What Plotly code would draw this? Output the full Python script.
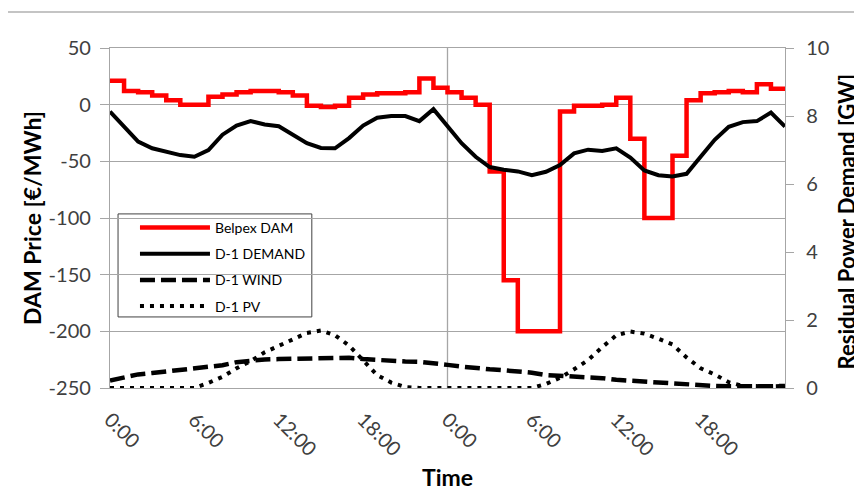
import plotly.graph_objects as go

# ---- data (hourly, two days) ----
hours = list(range(49))  # 0..48 h
tick_hours = [0, 6, 12, 18, 24, 30, 36, 42]
tick_labels = ["0:00", "6:00", "12:00", "18:00", "0:00", "6:00", "12:00", "18:00"]
price_ticks = [50, 0, -50, -100, -150, -200, -250]
price_tick_labels = ["50", "0", "-50", "-100", "-150", "-200", "-250"]
gw_ticks = [0, 2, 4, 6, 8, 10]

# Belpex DAM price, EUR/MWh, one value per hour (48 hours)
price_day1 = [21, 12, 11, 8, 4, 0, 0, 7, 9, 11, 12, 12, 11, 8, -1, -2, -1, 6, 9, 10, 10, 11, 23, 15]
price_day2 = [11, 6, 0, -59, -155, -200, -200, -200, -6, -1, -1, 0, 6, -30, -100, -100, -45, 4, 10, 11, 12, 11, 18, 14]

# D-1 residual demand, GW
demand_day1 = [8.13, 7.7, 7.25, 7.05, 6.95, 6.85, 6.8, 7.0, 7.45, 7.72, 7.85, 7.75,
               7.7, 7.45, 7.2, 7.06, 7.05, 7.35, 7.72, 7.95, 8.0, 8.0, 7.85, 8.2]
demand_day2 = [7.7, 7.2, 6.8, 6.5, 6.42, 6.37, 6.26, 6.36, 6.56, 6.9, 7.01, 6.97,
               7.05, 6.78, 6.4, 6.26, 6.22, 6.3, 6.8, 7.3, 7.68, 7.82, 7.85, 8.1]
demand_end = [7.69]

# D-1 wind forecast, GW
wind_day1 = [0.22, 0.32, 0.4, 0.44, 0.48, 0.52, 0.56, 0.61, 0.67, 0.76, 0.81, 0.84,
             0.85, 0.86, 0.86, 0.87, 0.87, 0.89, 0.85, 0.82, 0.8, 0.78, 0.77, 0.74]
wind_day2 = [0.68, 0.63, 0.58, 0.55, 0.52, 0.5, 0.45, 0.38, 0.36, 0.34, 0.33, 0.29,
             0.24, 0.21, 0.18, 0.15, 0.12, 0.09, 0.07, 0.06, 0.05, 0.04, 0.04, 0.05]
wind_end = [0.06]

# D-1 PV forecast, GW
pv_day1 = [0, 0, 0, 0, 0, 0, 0, 0.15, 0.33, 0.58, 0.79, 1.05,
           1.25, 1.45, 1.62, 1.69, 1.55, 1.25, 0.8, 0.38, 0.16, 0.03, 0, 0]
pv_day2 = [0, 0, 0, 0, 0, 0, 0, 0.12, 0.3, 0.55, 0.82, 1.2,
           1.55, 1.66, 1.6, 1.45, 1.28, 0.9, 0.58, 0.4, 0.17, 0.06, 0.05, 0.05]
pv_end = [0.06]

price = price_day1 + price_day2
demand = demand_day1 + demand_day2 + demand_end
wind = wind_day1 + wind_day2 + wind_end
pv = pv_day1 + pv_day2 + pv_end

FONT = "Lato"
GRID = "#a6a6a6"

fig = go.Figure()
fig.add_trace(go.Scatter(x=hours, y=price + [price[-1]], name="Belpex DAM", mode="lines",
                         line=dict(color="#ff0000", width=4.5, shape="hv"), legendgroup="a"))
fig.add_trace(go.Scatter(x=hours, y=demand, name="D-1 DEMAND", mode="lines", yaxis="y2",
                         line=dict(color="#000000", width=4), legendgroup="b"))
fig.add_trace(go.Scatter(x=hours, y=wind, name="D-1 WIND", mode="lines", yaxis="y2",
                         line=dict(color="#000000", width=4.5, dash="15px,6px"), legendgroup="c"))
fig.add_trace(go.Scatter(x=hours, y=pv, name="D-1 PV", mode="lines", yaxis="y2",
                         line=dict(color="#000000", width=4, dash="4px,6px"), legendgroup="d"))

tickfont = dict(family=FONT, size=20, color="#404040")
titlefont = dict(family=FONT, size=23, color="#000000", weight="bold")
titlefont_right = dict(family=FONT, size=22, color="#000000", weight="bold")

# page has an 8px body margin, so the figure is offset by 8px
fig.update_layout(
    width=854, height=482,
    margin=dict(l=102, r=77, t=40, b=102),
    paper_bgcolor="white", plot_bgcolor="white",
    font=dict(family=FONT),
    xaxis=dict(range=[0, 48], tickvals=tick_hours, ticktext=tick_labels, tickangle=45,
               showgrid=False, zeroline=False, showline=True, mirror=True,
               linecolor=GRID, linewidth=1.3, ticks="", tickfont=tickfont,
               ticklabelstandoff=11, automargin=False),
    yaxis=dict(range=[-250, 50], tickvals=price_ticks, ticktext=price_tick_labels,
               showgrid=True, gridcolor=GRID, gridwidth=1.3,
               zeroline=False, showline=True, linecolor=GRID, linewidth=1.3,
               ticks="outside", ticklen=9, tickcolor=GRID, tickfont=tickfont,
               ticklabelstandoff=5, automargin=False),
    yaxis2=dict(range=[0, 10], tickvals=gw_ticks, overlaying="y", side="right", showgrid=False,
                zeroline=False, showline=True, linecolor=GRID, linewidth=1.3,
                ticks="outside", ticklen=8, tickcolor=GRID, tickfont=tickfont,
                ticklabelstandoff=8, automargin=False),
    legend=dict(x=0.037, y=0.518, xanchor="left", yanchor="top", bgcolor="rgba(0,0,0,0)",
                borderwidth=0, tracegroupgap=5, itemwidth=70,
                font=dict(family=FONT, size=14, color="#000000")),
    shapes=[
        dict(type="line", xref="x", yref="paper", x0=24, x1=24, y0=0, y1=1,
             line=dict(color=GRID, width=1.3), layer="below"),
        dict(type="rect", xref="paper", yref="paper", x0=0.0119, x1=0.299, y0=0.209, y1=0.512,
             line=dict(color="#404040", width=1), fillcolor="white", layer="between"),
        dict(type="line", xref="paper", yref="paper", x0=-0.152, x1=1.12, y0=1.106, y1=1.106,
             line=dict(color="#b0b0b0", width=1.5)),
    ],
    annotations=[
        dict(text="DAM Price [€/MWh]", xref="paper", yref="paper", x=-0.1156, y=0.5,
             xanchor="center", yanchor="middle", textangle=-90, showarrow=False, font=titlefont),
        dict(text="Residual Power Demand [GW]", xref="paper", yref="paper", x=1.0904, y=0.49,
             xanchor="center", yanchor="middle", textangle=-90, showarrow=False, font=titlefont_right),
        dict(text="Time", xref="paper", yref="paper", x=0.5, y=-0.262,
             xanchor="center", yanchor="middle", showarrow=False, font=titlefont),
    ],
)

fig.write_html("out.html")
